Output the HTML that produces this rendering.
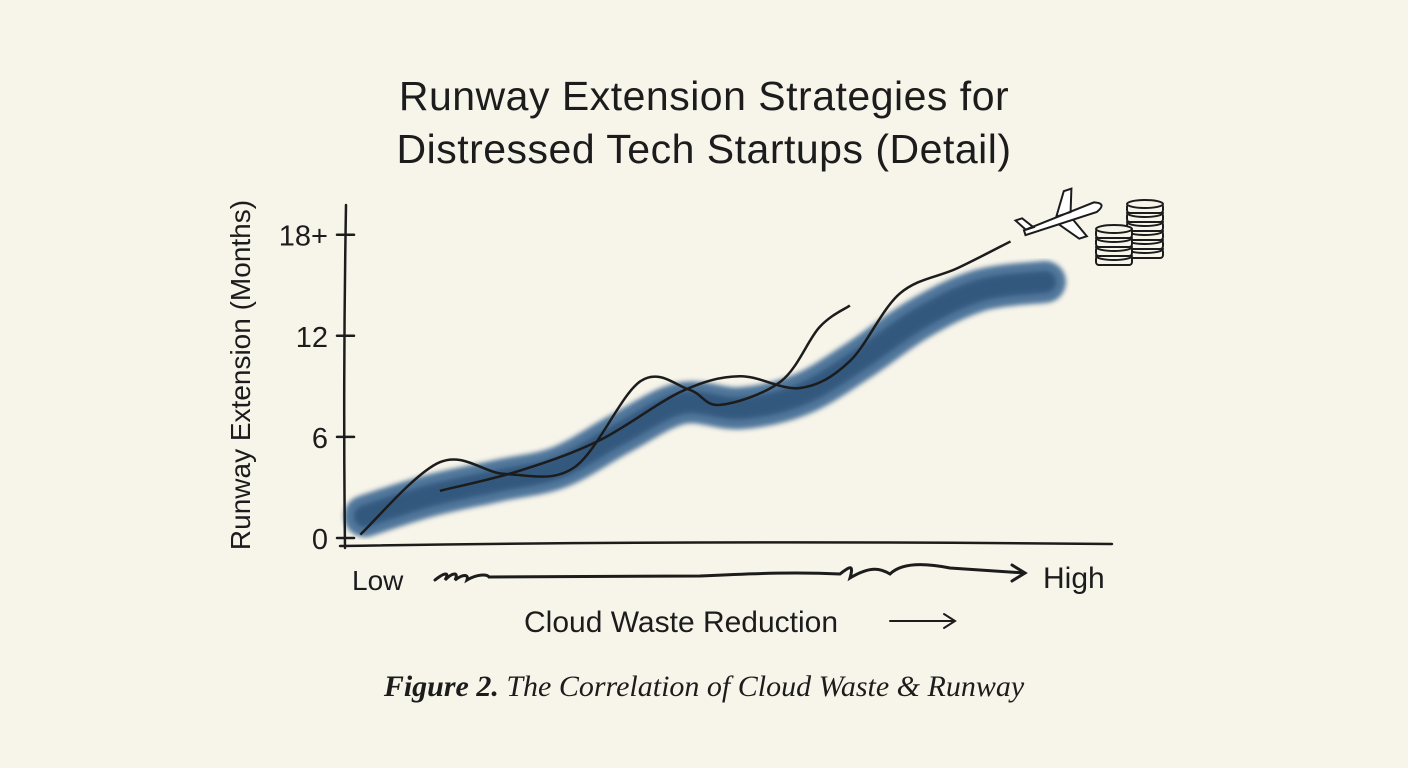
<!DOCTYPE html>
<html><head><meta charset="utf-8">
<style>
html,body{margin:0;padding:0;background:#f7f4ea;}
body{width:1408px;height:768px;overflow:hidden;position:relative;font-family:"Liberation Sans",sans-serif;}
.title{position:absolute;left:0;width:1408px;top:70px;text-align:center;font-size:41px;line-height:53px;color:#1c1c1c;letter-spacing:0.5px}
.caption{position:absolute;left:0;width:1408px;top:670px;text-align:center;font-family:"Liberation Serif",serif;font-style:italic;font-size:30px;color:#1c1c1c}
</style></head>
<body>
<div class="title">Runway Extension Strategies for<br>Distressed Tech Startups (Detail)</div>
<svg id="chart" width="1408" height="768" style="position:absolute;left:0;top:0">
<defs>
<filter id="wc"><feGaussianBlur stdDeviation="2.5"/></filter>
</defs>
<g id="band"></g>
<g id="lines"></g>
<g id="axes" stroke="#1c1c1c" fill="none" stroke-width="2.5" stroke-linecap="round"></g>
<g id="labels" font-family="Liberation Sans, sans-serif" fill="#1c1c1c"></g>
</svg>
<div class="caption"><b>Figure 2.</b> The Correlation of Cloud Waste &amp; Runway</div>
<script>
const yTicks=[0,6,12,18];
const yTickLabels=["0","6","12","18+"];
const bandX=[2.6,11,20,28,36,44,51.6,59.5,67,75,83,91.5];
const bandY=[1.3,2.5,3.4,4.2,6.2,8,7.7,8.5,10.5,13,14.7,15.2];
const lineAX=[2,12.4,21,30,38.6,45,49,57,62,66];
const lineAY=[0.2,4.5,3.8,4.2,9.3,8.8,7.9,9.3,12.5,13.8];
const lineBX=[12.4,22.9,33.3,44,51.6,59.5,66,72.5,80,87];
const lineBY=[2.8,4.0,5.8,8.7,9.6,8.9,10.5,14.5,16.0,17.6];
const X0=345,X1=1110,Y0=538,PY=16.85;
const sx=v=>X0+(X1-X0)*v/100, sy=v=>Y0-v*PY;
const NS="http://www.w3.org/2000/svg";
function mk(tag,attrs,parent){const e=document.createElementNS(NS,tag);for(const k in attrs)e.setAttribute(k,attrs[k]);parent.appendChild(e);return e;}
function smooth(xs,ys){const p=xs.map((x,i)=>[sx(x),sy(ys[i])]);let d=`M${p[0][0]},${p[0][1]}`;
for(let i=0;i<p.length-1;i++){const p0=p[i-1]||p[i],p1=p[i],p2=p[i+1],p3=p[i+2]||p2;
d+=` C${p1[0]+(p2[0]-p0[0])/6},${p1[1]+(p2[1]-p0[1])/6} ${p2[0]-(p3[0]-p1[0])/6},${p2[1]-(p3[1]-p1[1])/6} ${p2[0]},${p2[1]}`;}return d;}
const band=document.getElementById('band');
const b1=mk('path',{d:smooth(bandX,bandY),stroke:'#35628e',"stroke-width":42,fill:'none',"stroke-linecap":'round',opacity:0.85,filter:'url(#wc)'},band);


const b2=mk('path',{d:smooth(bandX,bandY),stroke:'#1a3f68',"stroke-width":22,fill:'none',"stroke-linecap":'round',opacity:0.55,filter:'url(#wc)'},band);


const lines=document.getElementById('lines');
const la=mk('path',{d:smooth(lineAX,lineAY),stroke:'#1c1c1c',"stroke-width":2.5,fill:'none'},lines);


const lb=mk('path',{d:smooth(lineBX,lineBY),stroke:'#1c1c1c',"stroke-width":2.5,fill:'none'},lines);


const axes=document.getElementById('axes');
const ya=mk('path',{d:`M346,205 Q343,380 345,548`},axes);


const xa=mk('path',{d:`M340,546 Q700,540 1112,544`},axes);


const sq=mk('path',{d:`M435,580 c10,-8 15,-8 10,0 c8,-8 14,-8 10,0 c8,-6 14,-6 12,0 c10,-6 20,-6 22,-3 L700,576 c60,-3 100,-4 140,-2 c10,-8 14,-10 10,4 c20,-12 30,-10 40,-4 c10,-10 30,-12 60,-6 L1025,573 M1012,565 L1025,573 L1012,581`,"stroke-width":3},axes);


const ar=mk('path',{d:`M890,621 L955,621 M944,614 L955,621 L944,628`,"stroke-width":2},axes);


const labels=document.getElementById('labels');
yTicks.forEach((t,i)=>{
 const tk=mk('line',{x1:337,x2:354,y1:sy(t),y2:sy(t)},axes);
 
 
 const tx=mk('text',{x:328,y:sy(t)+11,"font-size":29,"text-anchor":"end"},labels);tx.textContent=yTickLabels[i];
 
 
});
const yt=mk('text',{x:0,y:0,"font-size":28,"text-anchor":"middle",transform:"translate(250,375) rotate(-90)"},labels);
yt.textContent="Runway Extension (Months)";


const lo=mk('text',{x:352,y:590,"font-size":28},labels);lo.textContent="Low";


const hi=mk('text',{x:1043,y:588,"font-size":30},labels);hi.textContent="High";


const xt=mk('text',{x:524,y:632,"font-size":30},labels);xt.textContent="Cloud Waste Reduction";


const pl=mk('g',{transform:"translate(1062,218) rotate(-18)",stroke:"#1c1c1c","stroke-width":2,fill:"#fff"},axes);


mk('path',{d:"M-40,0 L35,-5 Q48,0 35,5 L-40,5 Z M-5,-3 L10,-25 L18,-25 L10,-3 Z M-5,5 L10,25 L18,25 L10,5 Z M-38,0 L-45,-12 L-38,-12 L-30,0 Z"},pl);
const coins=mk('g',{stroke:"#1c1c1c","stroke-width":2,fill:"#f7f4ea"},axes);


[[1145,255,6],[1114,262,4]].forEach(([cx,by,n])=>{for(let i=0;i<n;i++){mk('rect',{x:cx-18,y:by-i*9-6,width:36,height:9,rx:3},coins);mk('ellipse',{cx:cx,cy:by-i*9-6,rx:18,ry:4},coins);}});
</script>
</body></html>
